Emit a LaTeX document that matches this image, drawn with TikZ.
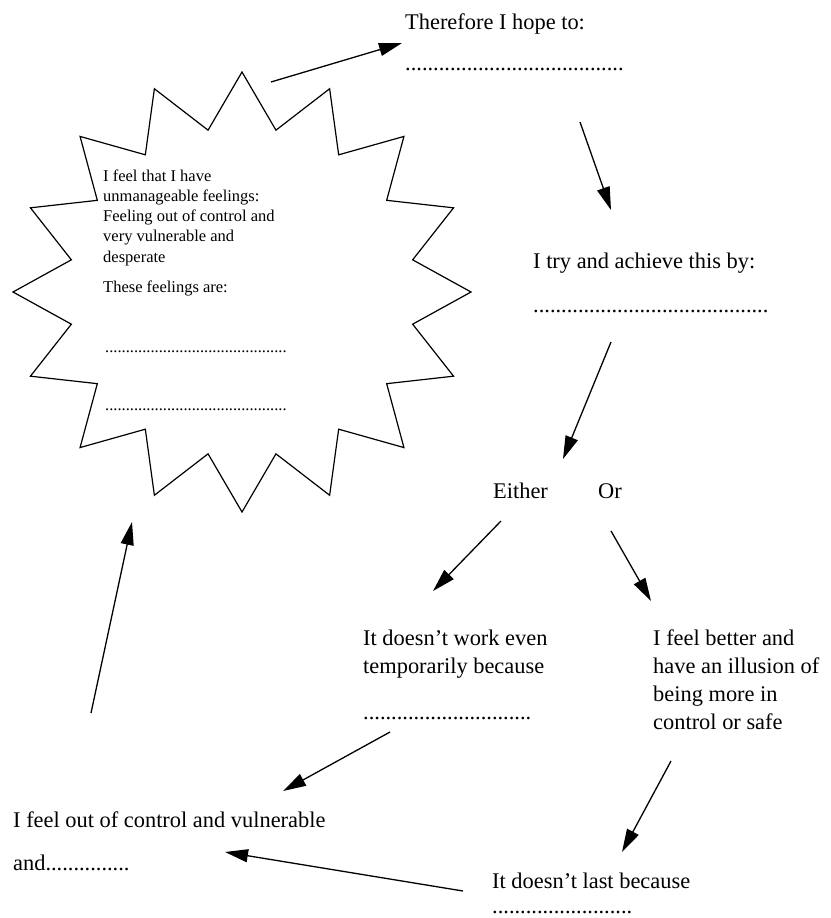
\documentclass[tikz,border=0pt]{standalone}
\usepackage{fontspec}
\setmainfont{Liberation Serif}
\usetikzlibrary{arrows.meta}

% a row of #1 full stops, used as a fill-in line
\newcommand\fillrow[1]{\foreach \i in {1,...,#1}{.}}

\begin{document}
\begin{tikzpicture}[x=1pt,y=-1pt,
  conn/.style={line width=1.3pt,-{Triangle[length=23pt,width=13pt]}},
  lbl/.style={anchor=base west,inner sep=0pt,font=\fontsize{22.4}{28}\selectfont,align=left},
  smalllbl/.style={anchor=base west,inner sep=0pt,font=\fontsize{16.5}{20.2}\selectfont,align=left},
  burst/.style={line width=1.2pt,line join=miter}]
\useasboundingbox (0,0) rectangle (830,918);

% sixteen-point burst holding the feelings
\draw[burst] (242,72)
  \foreach \k in {1,...,31}{
    -- ({242+(mod(\k,2)==0?229:174)*cos(90+11.25*\k)},
        {292-(mod(\k,2)==0?220:165)*sin(90+11.25*\k)})
  } -- cycle;

% multi-line labels are placed by the baseline of their last line
\node[smalllbl] (feel) at (103,262) {I feel that I have\\unmanageable feelings:\\Feeling out of control and\\very vulnerable and\\desperate};
\node[smalllbl] (these) at (103,292) {These feelings are:};
\node[smalllbl] (fdots1) at (105,352) {\fillrow{44}};
\node[smalllbl] (fdots2) at (105,410) {\fillrow{44}};

% the cycle of steps
\node[lbl] (hope) at (405,29) {Therefore I hope to:};
\node[lbl] (hopedots) at (405,70) {\fillrow{39}};
\node[lbl] (try) at (533,268) {I try and achieve this by:};
\node[lbl] (trydots) at (533,312) {\fillrow{42}};
\node[lbl] (either) at (493,498) {Either};
\node[lbl] (or) at (598,498) {Or};
\node[lbl] (work) at (363,673) {It doesn’t work even\\temporarily because};
\node[lbl] (workdots) at (363,719) {\fillrow{30}};
\node[lbl] (better) at (653,729) {I feel better and\\have an illusion of\\being more in\\control or safe};
\node[lbl] (outctl) at (13,827) {I feel out of control and vulnerable};
\node[lbl] (andmore) at (13,870) {and\fillrow{15}};
\node[lbl] (last) at (492,888) {It doesn’t last because};
\node[lbl] (lastdots) at (492,913) {\fillrow{25}};

% arrow end points
\coordinate (s1) at (271,82);  \coordinate (e1) at (402,43);
\coordinate (s2) at (580,122); \coordinate (e2) at (611,210);
\coordinate (s3) at (611,342); \coordinate (e3) at (563,459);
\coordinate (s4) at (501,521); \coordinate (e4) at (433,591);
\coordinate (s5) at (611,531); \coordinate (e5) at (651,601);
\coordinate (s6) at (390,732); \coordinate (e6) at (283,791);
\coordinate (s7) at (671,761); \coordinate (e7) at (622,852);
\coordinate (s8) at (463,891); \coordinate (e8) at (225,852);
\coordinate (s9) at (91,713);  \coordinate (e9) at (132,522);

\foreach \n in {1,...,9}{\draw[conn] (s\n) -- (e\n);}
\end{tikzpicture}
\end{document}
